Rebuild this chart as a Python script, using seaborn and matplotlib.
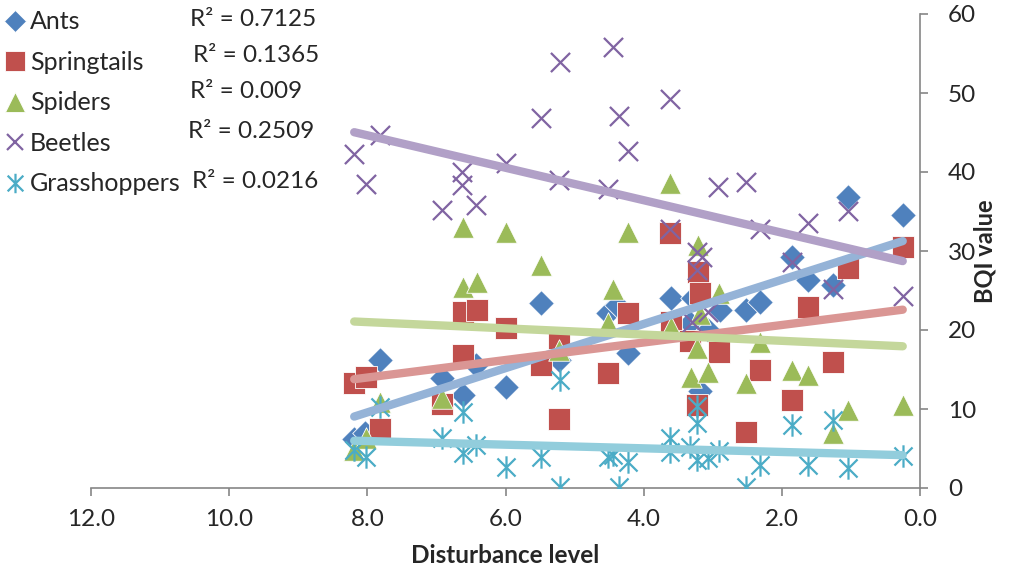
import numpy as np
import pandas as pd
import matplotlib
matplotlib.use("Agg")
import matplotlib.pyplot as plt
from matplotlib.path import Path
from matplotlib.lines import Line2D
import seaborn as sns

# ---------------- data ----------------
ants_x = [8.19, 8.03, 7.81, 6.92, 6.61, 6.43, 6.00, 5.48, 5.22, 4.52, 4.39, 4.23,
          3.61, 3.28, 3.33, 3.07, 3.18, 2.89, 2.52, 2.32, 1.85, 1.62, 1.26, 1.04, 0.25]
ants_y = [6.2, 7.0, 16.2, 13.9, 11.8, 15.6, 12.8, 23.4, 16.2, 22.1, 23.2, 17.1,
          24.0, 24.0, 20.9, 20.0, 12.3, 22.5, 22.5, 23.5, 29.2, 26.3, 25.7, 36.8, 34.6]

spring_x = [8.19, 8.02, 7.81, 6.92, 6.61, 6.61, 6.41, 6.00, 5.48, 5.22, 5.22, 4.52,
            4.23, 3.62, 3.21, 3.18, 3.61, 3.33, 2.91, 2.32, 3.23, 2.52, 1.85, 1.62,
            1.26, 1.04, 0.25]
spring_y = [13.3, 14.1, 7.5, 10.6, 16.8, 22.3, 22.5, 20.3, 15.6, 19.0, 8.7, 14.6,
            22.2, 32.3, 27.3, 24.7, 21.0, 18.6, 17.2, 14.9, 10.5, 7.1, 11.1, 22.9,
            15.9, 27.8, 30.5]

spider_x = [8.19, 8.02, 7.81, 6.92, 6.61, 6.61, 6.41, 6.00, 5.48, 5.22, 4.44, 4.52,
            4.23, 3.62, 3.21, 2.91, 3.61, 3.23, 3.31, 3.07, 2.52, 2.32, 3.18, 1.85,
            1.62, 1.26, 1.04, 0.25]
spider_y = [4.8, 6.3, 10.9, 11.4, 33.0, 25.4, 26.1, 32.4, 28.2, 17.5, 25.2, 20.9,
            32.4, 38.6, 30.8, 24.7, 20.4, 17.7, 14.1, 14.7, 13.3, 18.5, 22.0, 14.9,
            14.3, 7.0, 9.9, 10.5]

beetle_x = [8.19, 8.02, 7.81, 6.92, 6.63, 6.63, 6.43, 6.00, 5.48, 5.21, 5.22, 4.52,
            4.44, 4.36, 4.23, 3.62, 3.62, 3.23, 3.15, 3.23, 3.30, 3.07, 2.92, 2.52,
            2.32, 1.85, 1.62, 1.26, 1.04, 0.25]
beetle_y = [42.3, 38.5, 44.7, 35.2, 40.0, 38.4, 35.8, 41.1, 46.8, 53.9, 39.0, 37.8,
            55.8, 47.1, 42.7, 49.2, 32.8, 29.9, 29.2, 27.6, 21.0, 22.3, 38.1, 38.7,
            32.8, 28.6, 33.5, 25.2, 35.1, 24.3]

grass_x = [8.19, 8.02, 7.81, 6.92, 6.61, 6.61, 6.43, 6.00, 5.48, 5.21, 5.21, 4.52,
           4.44, 4.36, 4.23, 3.62, 3.62, 3.33, 3.23, 3.23, 3.23, 3.07, 2.91, 2.52,
           2.32, 1.85, 1.62, 1.26, 1.04, 0.25]
grass_y = [4.8, 3.9, 10.3, 6.3, 9.6, 4.4, 5.4, 2.7, 3.9, 13.7, 0.1, 3.9,
           4.2, 0.1, 3.3, 6.3, 4.6, 5.2, 10.4, 8.2, 3.5, 3.8, 4.7, 0.1,
           2.9, 8.0, 2.9, 8.6, 2.5, 4.0]

series_names = ["Ants", "Springtails", "Spiders", "Beetles", "Grasshoppers"]
r2_labels = ["R² = 0.7125", "R² = 0.1365", "R² = 0.009", "R² = 0.2509", "R² = 0.0216"]
x_ticks = [12.0, 10.0, 8.0, 6.0, 4.0, 2.0, 0.0]
y_ticks = [0, 10, 20, 30, 40, 50, 60]

# ---------------- styling ----------------
sns.set_theme(style="white")
plt.rcParams["font.family"] = ["Lato", "DejaVu Sans"]

marker_colors = ["#4F81BD", "#C0504D", "#9BBB59", "#8064A2", "#4BACC6"]
line_colors = ["#95B3D7", "#DA9694", "#C4D79B", "#B1A0C7", "#92CDDC"]

# Excel-like asterisk: X plus vertical bar
ast = Path([(-0.5, -0.5), (0.5, 0.5), (-0.5, 0.5), (0.5, -0.5), (0, -0.62), (0, 0.62)],
           [Path.MOVETO, Path.LINETO, Path.MOVETO, Path.LINETO, Path.MOVETO, Path.LINETO])

markers = ["D", "s", "^", "x", ast]
sizes = [170, 240, 240, 190, 260]
lws = [0.6, 0.6, 0.6, 1.6, 1.6]

frames = []
for name, xs, ys in zip(series_names,
                        [ants_x, spring_x, spider_x, beetle_x, grass_x],
                        [ants_y, spring_y, spider_y, beetle_y, grass_y]):
    frames.append(pd.DataFrame({"Disturbance level": xs, "BQI value": ys, "taxon": name}))
df = pd.concat(frames, ignore_index=True)

fig = plt.figure(figsize=(10.10, 5.74), dpi=100)
ax = fig.add_axes([91 / 1010, 1 - 488 / 574, (920 - 91) / 1010, (488 - 14) / 574])

for i, name in enumerate(series_names):
    sub = df[df["taxon"] == name]
    filled = markers[i] in ("D", "s", "^")
    sns.scatterplot(data=sub, x="Disturbance level", y="BQI value", ax=ax,
                    marker=markers[i], s=sizes[i], color=marker_colors[i],
                    edgecolor=("#FFFFFF" if filled else marker_colors[i]),
                    linewidth=lws[i], zorder=3 + i, legend=False)

for i, name in enumerate(series_names):
    sub = df[df["taxon"] == name]
    sns.regplot(data=sub, x="Disturbance level", y="BQI value", ax=ax,
                scatter=False, ci=None, truncate=True,
                line_kws=dict(color=line_colors[i], lw=6, solid_capstyle="round",
                              zorder=10 + i))

ax.set_xlim(12, 0)
ax.set_ylim(0, 60)
ax.set_xticks(x_ticks)
ax.set_xticklabels([f"{t:.1f}" for t in x_ticks])
ax.set_yticks(y_ticks)
ax.yaxis.tick_right()
ax.yaxis.set_label_position("right")
for s in ["top", "left"]:
    ax.spines[s].set_visible(False)
for s in ["bottom", "right"]:
    ax.spines[s].set_color("#868686")
    ax.spines[s].set_linewidth(1.2)
ax.tick_params(axis="x", direction="out", length=6, width=1.2, color="#868686",
               labelsize=17.5, pad=9, bottom=True)
ax.tick_params(axis="y", direction="out", length=6, width=1.2, color="#868686",
               labelsize=17.5, pad=14, right=True, left=False, labelright=True, labelleft=False)
ax.set_xlabel("Disturbance level", fontsize=17.5, fontweight="bold", labelpad=10)
ax.set_ylabel("BQI value", fontsize=17, fontweight="bold")
ylab = ax.yaxis.label
ylab.set_rotation(90)
ylab.set_rotation_mode("anchor")
ylab.set_horizontalalignment("center")
ylab.set_verticalalignment("center")
ax.yaxis.set_label_coords((985 - 91) / 829, 0.5)

handles = []
for i, name in enumerate(series_names):
    filled = markers[i] in ("D", "s", "^")
    handles.append(Line2D([], [], linestyle="none", marker=markers[i],
                          markersize=[11, 14, 14, 12, 14][i],
                          markerfacecolor=marker_colors[i],
                          markeredgecolor=("#FFFFFF" if filled else marker_colors[i]),
                          markeredgewidth=lws[i], label=name))
fig.legend(handles=handles, loc="upper left", bbox_to_anchor=(0.0, 0.995),
           frameon=False, fontsize=18, handlelength=0.6, handletextpad=0.3,
           labelspacing=0.7, borderaxespad=0.15, borderpad=0.15)

r2_pos = [(190, 20), (193, 56), (190, 91), (188, 131), (192, 181)]
for (px, py), t in zip(r2_pos, r2_labels):
    fig.text(px / 1010, 1 - py / 574, t, fontsize=17.5, ha="left", va="center")

fig.savefig("out.png", dpi=100)
